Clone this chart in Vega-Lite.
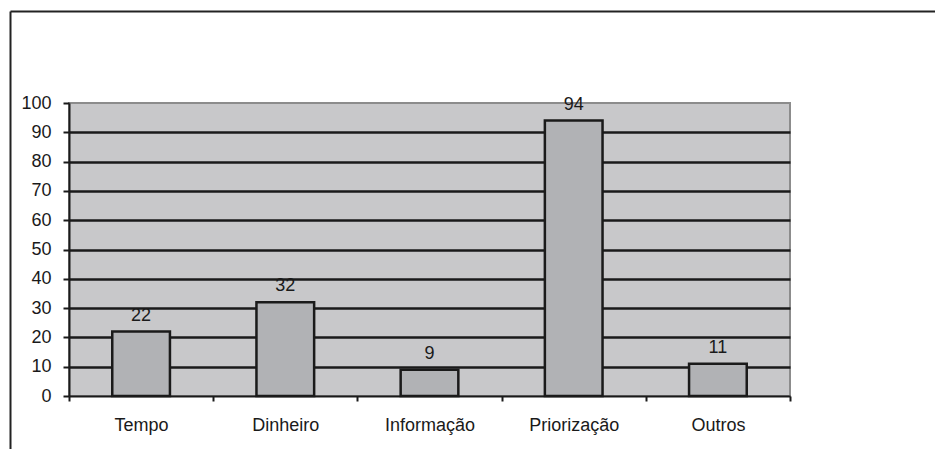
{
  "$schema": "https://vega.github.io/schema/vega-lite/v6.json",
  "autosize": "none",
  "width": 721,
  "height": 293,
  "padding": {"left": 69, "top": 103, "right": 145, "bottom": 53},
  "background": "white",
  "data": {
    "values": [
      {"motivo": "Tempo", "total": 22},
      {"motivo": "Dinheiro", "total": 32},
      {"motivo": "Informação", "total": 9},
      {"motivo": "Priorização", "total": 94},
      {"motivo": "Outros", "total": 11}
    ]
  },
  "layer": [
    {
      "encoding": {
        "x": {
          "field": "motivo",
          "type": "nominal",
          "sort": null,
          "scale": {"paddingInner": 0, "paddingOuter": 0},
          "axis": {
            "title": null,
            "labelAngle": 0,
            "tickBand": "extent",
            "tickSize": 5,
            "tickWidth": 2,
            "tickColor": "#1a1a1a",
            "domainColor": "#1a1a1a",
            "domainWidth": 2,
            "labelFont": "Liberation Sans",
            "labelFontSize": 18,
            "labelColor": "#1a1a1a",
            "labelPadding": 15,
            "grid": false
          }
        },
        "y": {
          "field": "total",
          "type": "quantitative",
          "scale": {"domain": [0, 100], "nice": false},
          "axis": {
            "title": null,
            "values": [0, 10, 20, 30, 40, 50, 60, 70, 80, 90, 100],
            "tickSize": 6,
            "tickWidth": 2,
            "tickColor": "#1a1a1a",
            "domainColor": "#1a1a1a",
            "domainWidth": 2,
            "labelFont": "Liberation Sans",
            "labelFontSize": 18,
            "labelColor": "#1a1a1a",
            "labelPadding": 12,
            "grid": true,
            "gridColor": "#1a1a1a",
            "gridWidth": 2.5,
            "gridOpacity": {
              "condition": {"test": "datum.value === 0 || datum.value === 100", "value": 0},
              "value": 1
            }
          }
        }
      },
      "layer": [
        {
          "mark": {
            "type": "bar",
            "width": {"band": 0.4},
            "fill": "#b1b2b5",
            "stroke": "#1a1a1a",
            "strokeWidth": 2.5
          }
        },
        {
          "mark": {
            "type": "text",
            "font": "Liberation Sans",
            "fontSize": 18,
            "color": "#1a1a1a",
            "baseline": "alphabetic",
            "dy": -11
          },
          "encoding": {"text": {"field": "total", "type": "quantitative"}}
        }
      ]
    },
    {
      "mark": {"type": "point", "opacity": 0},
      "encoding": {
        "x": {
          "datum": 0,
          "type": "quantitative",
          "scale": {"domain": [0, 1], "range": [-59, 866]},
          "axis": {
            "orient": "top",
            "offset": 92,
            "ticks": false,
            "labels": false,
            "grid": false,
            "title": null,
            "domainColor": "#222222",
            "domainWidth": 2
          }
        },
        "y": {
          "datum": 0,
          "type": "quantitative",
          "scale": {"domain": [0, 1], "range": [346, -92]},
          "axis": {
            "orient": "left",
            "offset": 59,
            "ticks": false,
            "labels": false,
            "grid": false,
            "title": null,
            "domainColor": "#222222",
            "domainWidth": 2
          }
        }
      }
    }
  ],
  "resolve": {
    "scale": {"x": "independent", "y": "independent"},
    "axis": {"x": "independent", "y": "independent"}
  },
  "config": {
    "view": {"fill": "#c8c8ca", "stroke": "#8c8c8c", "strokeWidth": 2}
  }
}
